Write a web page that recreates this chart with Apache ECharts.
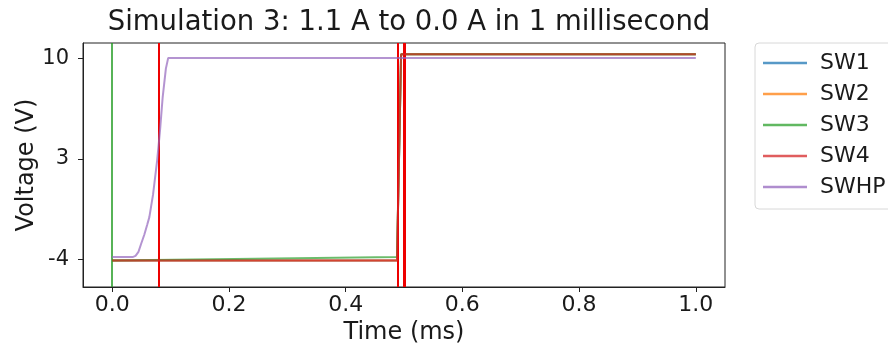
<!DOCTYPE html>
<html>
<head>
<meta charset="utf-8">
<script src="https://cdn.jsdelivr.net/npm/echarts@6/dist/echarts.min.js"></script>
<style>
html,body{margin:0;padding:0;background:#fff;}
#chart{width:888px;height:347px;}
</style>
</head>
<body>
<div id="chart"></div>
<script>
// ---- data ----
const seriesNames = ['SW1', 'SW2', 'SW3', 'SW4', 'SWHP'];
const seriesColors = ['#1f77b4', '#ff7f0e', '#2ca02c', '#d62728', '#9467bd'];
const timeSW = [0, 0.488, 0.495, 1.0];
const sw1 = [-4.1, -4.1, 10.3, 10.3];
const sw2 = [-4.1, -4.1, 10.3, 10.3];
const sw3 = [-4.1, -3.85, 10.3, 10.3];
const sw4 = [-4.1, -4.1, 10.3, 10.3];
const timeHP = [0, 0.035, 0.04, 0.045, 0.0495, 0.055, 0.06, 0.0637, 0.07, 0.077, 0.082, 0.0865, 0.092, 0.096, 1.0];
const swhp = [-3.86, -3.86, -3.78, -3.5, -2.95, -2.3, -1.6, -1.07, 0.5, 2.88, 5.0, 7.3, 9.3, 10.05, 10.05];
const vlineGreen = [0];
const vlineRed = [0.077, 0.488];
const vlineRedThick = [0.5];
const xTicks = [0, 0.2, 0.4, 0.6, 0.8, 1.0];
const yTicks = [-4, 3, 10];
const titleText = 'Simulation 3: 1.1 A to 0.0 A in 1 millisecond';

function pairs(xs, ys) { return xs.map((x, i) => [x, ys[i]]); }

const font = 'DejaVu Sans';
const chart = echarts.init(document.getElementById('chart'), null, {renderer: 'canvas'});
const valuesList = [[timeSW, sw1], [timeSW, sw2], [timeSW, sw3], [timeSW, sw4], [timeHP, swhp]];

const series = seriesNames.map((n, i) => ({
  name: n,
  type: 'line',
  symbol: 'none',
  data: pairs(valuesList[i][0], valuesList[i][1]),
  lineStyle: {color: seriesColors[i], width: 2, opacity: 0.7},
  itemStyle: {color: seriesColors[i], opacity: 0.7},
  z: 2 + i,
  animation: false
}));

series.push({
  name: 'vlines',
  type: 'line',
  symbol: 'none',
  data: [],
  z: 10,
  animation: false,
  markLine: {
    silent: true,
    symbol: 'none',
    label: {show: false},
    animation: false,
    data: [
      ...vlineGreen.map(v => ({xAxis: v, lineStyle: {color: '#1f9a1f', width: 1.5, type: 'solid'}})),
      ...vlineRed.map(v => ({xAxis: v, lineStyle: {color: '#ee0000', width: 2, type: 'solid'}})),
      ...vlineRedThick.map(v => ({xAxis: v, lineStyle: {color: '#ee0000', width: 3, type: 'solid'}}))
    ]
  }
});

chart.setOption({
  animation: false,
  backgroundColor: '#fff',
  title: {
    text: titleText,
    left: 404,
    textAlign: 'center',
    top: 4,
    textStyle: {fontFamily: font, fontSize: 27.5, fontWeight: 'normal', color: '#1a1a1a'}
  },
  legend: {
    data: seriesNames,
    orient: 'vertical',
    left: 755,
    top: 43,
    icon: 'rect',
    padding: [8, 40, 10, 8],
    itemWidth: 44,
    itemHeight: 2.5,
    itemGap: 7,
    backgroundColor: '#fff',
    borderColor: '#d8d8d8',
    borderWidth: 1,
    borderRadius: 4,
    itemStyle: {opacity: 0.75},
    textStyle: {fontFamily: font, fontSize: 22, lineHeight: 24, color: '#1a1a1a', padding: [0, 0, 0, 8]}
  },
  grid: {
    left: 83, right: 163, top: 43, bottom: 60,
    outerBoundsMode: 'none',
    containLabel: false,
    show: true, borderColor: '#222', borderWidth: 1, backgroundColor: 'transparent'
  },
  xAxis: {
    type: 'value',
    min: -0.05, max: 1.05,
    name: 'Time (ms)',
    nameLocation: 'middle',
    nameGap: 34,
    nameMoveOverlap: false,
    nameTextStyle: {fontFamily: font, fontSize: 24, color: '#1a1a1a'},
    axisLine: {show: true, onZero: false, lineStyle: {color: '#222', width: 1}},
    axisTick: {show: true, customValues: xTicks, length: 5, lineStyle: {color: '#222'}},
    axisLabel: {customValues: xTicks, fontFamily: font, fontSize: 22, color: '#1a1a1a', margin: 7,
      formatter: v => v.toFixed(1)},
    splitLine: {show: false}
  },
  yAxis: {
    type: 'value',
    min: -5.95, max: 11.09,
    name: 'Voltage (V)',
    nameLocation: 'middle',
    nameGap: 44,
    nameMoveOverlap: false,
    nameTextStyle: {fontFamily: font, fontSize: 24, color: '#1a1a1a'},
    axisLine: {show: true, onZero: false, lineStyle: {color: '#222', width: 1}},
    axisTick: {show: true, customValues: yTicks, length: 5, lineStyle: {color: '#222'}},
    axisLabel: {customValues: yTicks, fontFamily: font, fontSize: 21, color: '#1a1a1a', margin: 14},
    splitLine: {show: false}
  },
  series: series
});
</script>
</body>
</html>
